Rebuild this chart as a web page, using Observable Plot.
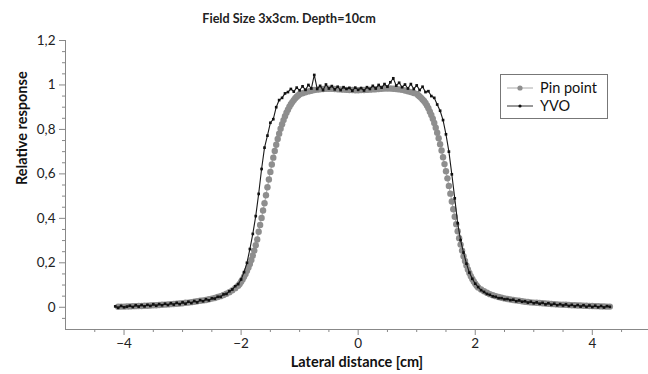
<!DOCTYPE html>
<html><head><meta charset="utf-8">
<script src="https://cdn.jsdelivr.net/npm/d3@7"></script>
<script src="https://cdn.jsdelivr.net/npm/@observablehq/plot@0.6"></script>
<style>
body{margin:0;background:#fff;}
#wrap{position:relative;width:648px;height:374px;font-family:Lato,sans-serif;}
#title{position:absolute;left:0;top:0;width:578px;text-align:center;font-weight:bold;font-size:12.6px;line-height:38px;color:#222;}
#legend{position:absolute;left:500px;top:74px;width:106px;height:43px;border:1px solid #777;background:#fff;font-size:14.5px;color:#111;}
#legend .row{position:absolute;left:0;height:18px;line-height:18px;}
#legend svg{position:absolute;left:6px;top:0;}
#legend span{position:absolute;left:39px;top:0;white-space:nowrap;}
</style></head>
<body><div id="wrap"><div id="title"></div><div id="legend"></div></div>
<script>
const titleText = "Field Size 3x3cm. Depth=10cm";
const xLabel = "Lateral distance [cm]";
const yLabel = "Relative response";
const seriesNames = ["Pin point", "YVO"];
const xTicks = [-4, -2, 0, 2, 4];
const xMinorTicks = [-4.5, -3.5, -3, -2.5, -1.5, -1, -0.5, 0.5, 1, 1.5, 2.5, 3, 3.5, 4.5];
const yTicks = [0, 0.2, 0.4, 0.6, 0.8, 1, 1.2];
const yMinorTicks = [-0.05, 0.05, 0.1, 0.15, 0.25, 0.3, 0.35, 0.45, 0.5, 0.55, 0.65, 0.7, 0.75, 0.85, 0.9, 0.95, 1.05, 1.1, 1.15];

// Pin point
const pinX = [
-4.10,-4.05,-4.00,-3.95,-3.90,-3.85,-3.80,-3.75,-3.70,-3.65,-3.60,-3.55,-3.50,-3.45,-3.40,-3.35,-3.30,-3.25,-3.20,-3.15,-3.10,-3.05,-3.00,-2.95,-2.90,-2.85,-2.80,-2.75,-2.70,-2.65,-2.60,-2.55,-2.50,-2.45,-2.40,-2.35,-2.30,-2.25,-2.20,-2.15,-2.10,-2.05,
-2.025,-2.000,-1.975,-1.950,-1.925,-1.900,-1.875,-1.850,-1.825,-1.800,-1.775,-1.750,-1.725,-1.700,-1.675,-1.650,-1.625,-1.600,-1.575,-1.550,-1.525,-1.500,-1.475,-1.450,-1.425,-1.400,-1.375,-1.350,-1.325,-1.300,-1.275,-1.250,-1.225,-1.200,-1.175,-1.150,-1.125,-1.100,-1.075,-1.050,-1.025,-1.000,
-0.95,-0.90,-0.85,-0.80,-0.75,-0.70,-0.65,-0.60,-0.55,-0.50,-0.45,-0.40,-0.35,-0.30,-0.25,-0.20,-0.15,-0.10,-0.05,0.00,0.05,0.10,0.15,0.20,0.25,0.30,0.35,0.40,0.45,0.50,0.55,0.60,0.65,0.70,0.75,0.80,0.85,0.90,0.95,
1.000,1.025,1.050,1.075,1.100,1.125,1.150,1.175,1.200,1.225,1.250,1.275,1.300,1.325,1.350,1.375,1.400,1.425,1.450,1.475,1.500,1.525,1.550,1.575,1.600,1.625,1.650,1.675,1.700,1.725,1.750,1.775,1.800,1.825,1.850,1.875,1.900,1.925,1.950,1.975,2.000,2.025,2.050,
2.10,2.15,2.20,2.25,2.30,2.35,2.40,2.45,2.50,2.55,2.60,2.65,2.70,2.75,2.80,2.85,2.90,2.95,3.00,3.05,3.10,3.15,3.20,3.25,3.30,3.35,3.40,3.45,3.50,3.55,3.60,3.65,3.70,3.75,3.80,3.85,3.90,3.95,4.00,4.05,4.10,4.15,4.20,4.25,4.30];
const pinY = [
0.002,0.003,0.003,0.004,0.004,0.005,0.005,0.006,0.006,0.007,0.007,0.008,0.009,0.009,0.010,0.011,0.012,0.013,0.014,0.015,0.016,0.017,0.018,0.020,0.021,0.023,0.025,0.027,0.029,0.031,0.033,0.036,0.039,0.042,0.046,0.050,0.055,0.061,0.068,0.076,0.086,0.097,
0.105,0.115,0.125,0.137,0.150,0.164,0.179,0.195,0.213,0.233,0.255,0.279,0.305,0.340,0.370,0.402,0.435,0.468,0.504,0.540,0.575,0.609,0.642,0.673,0.703,0.731,0.757,0.781,0.803,0.823,0.842,0.859,0.875,0.889,0.902,0.913,0.923,0.932,0.940,0.947,0.953,0.958,
0.963,0.967,0.971,0.974,0.977,0.979,0.981,0.982,0.983,0.983,0.983,0.982,0.981,0.980,0.979,0.978,0.977,0.977,0.976,0.976,0.977,0.977,0.978,0.979,0.980,0.981,0.982,0.983,0.984,0.984,0.984,0.983,0.982,0.980,0.978,0.975,0.972,0.968,0.964,
0.960,0.954,0.948,0.942,0.935,0.928,0.919,0.908,0.895,0.880,0.865,0.848,0.829,0.808,0.785,0.760,0.733,0.705,0.675,0.644,0.612,0.580,0.546,0.511,0.476,0.441,0.407,0.374,0.342,0.311,0.282,0.255,0.230,0.208,0.188,0.170,0.154,0.140,0.127,0.116,0.106,0.097,0.089,
0.080,0.072,0.065,0.059,0.054,0.050,0.046,0.043,0.040,0.037,0.035,0.033,0.031,0.029,0.027,0.025,0.024,0.022,0.021,0.020,0.019,0.018,0.017,0.016,0.015,0.014,0.013,0.012,0.011,0.011,0.010,0.009,0.009,0.008,0.008,0.007,0.007,0.006,0.006,0.005,0.005,0.004,0.004,0.003,0.003];

// YVO
const yvoX = [
-4.15,-4.10,-4.05,-4.00,-3.95,-3.90,-3.85,-3.80,-3.75,-3.70,-3.65,-3.60,-3.55,-3.50,-3.45,-3.40,-3.35,-3.30,-3.25,-3.20,-3.15,-3.10,-3.05,-3.00,-2.95,-2.90,-2.85,-2.80,-2.75,-2.70,-2.65,-2.60,-2.55,-2.50,-2.45,-2.40,-2.35,-2.30,-2.25,-2.20,-2.15,-2.10,-2.05,
-2.00,-1.95,-1.90,-1.85,-1.80,-1.75,-1.70,-1.65,-1.60,-1.55,-1.50,-1.45,-1.40,-1.35,-1.30,-1.25,-1.20,-1.15,-1.10,-1.05,-1.00,
-0.95,-0.90,-0.85,-0.80,-0.75,-0.70,-0.65,-0.60,-0.55,-0.50,-0.45,-0.40,-0.35,-0.30,-0.25,-0.20,-0.15,-0.10,-0.05,0.00,0.05,0.10,0.15,0.20,0.25,0.30,0.35,0.40,0.45,0.50,0.55,0.60,0.65,0.70,0.75,0.80,0.85,0.90,0.95,
1.00,1.05,1.10,1.15,1.20,1.25,1.30,1.35,1.40,1.45,1.50,1.55,1.60,1.65,1.70,1.75,1.80,1.85,1.90,1.95,2.00,
2.05,2.10,2.15,2.20,2.25,2.30,2.35,2.40,2.45,2.50,2.55,2.60,2.65,2.70,2.75,2.80,2.85,2.90,2.95,3.00,3.05,3.10,3.15,3.20,3.25,3.30,3.35,3.40,3.45,3.50,3.55,3.60,3.65,3.70,3.75,3.80,3.85,3.90,3.95,4.00,4.05,4.10,4.15,4.20,4.25,4.30];
const yvoY = [
0.004,-0.002,0.006,0.000,0.003,0.007,0.001,0.009,0.003,0.010,0.004,0.011,0.006,0.013,0.007,0.014,0.009,0.016,0.010,0.018,0.012,0.020,0.014,0.022,0.016,0.025,0.019,0.028,0.022,0.032,0.027,0.036,0.031,0.040,0.039,0.047,0.047,0.058,0.060,0.072,0.080,0.095,0.104,
0.125,0.158,0.200,0.262,0.330,0.410,0.510,0.622,0.718,0.772,0.830,0.846,0.900,0.932,0.942,0.962,0.968,0.982,0.970,0.988,0.976,
0.994,0.978,1.000,0.984,1.045,0.982,0.996,0.977,1.002,0.984,0.995,0.980,0.992,0.977,0.990,0.982,0.987,0.974,0.988,0.978,0.986,0.975,0.990,0.982,0.996,0.984,1.000,0.988,1.004,0.992,1.012,1.030,0.997,1.010,0.990,1.002,0.984,1.004,0.982,
0.998,0.977,0.992,0.968,0.972,0.950,0.942,0.912,0.884,0.842,0.778,0.700,0.598,0.490,0.378,0.302,0.246,0.196,0.156,0.128,0.106,
0.091,0.077,0.069,0.060,0.056,0.049,0.047,0.041,0.041,0.036,0.037,0.032,0.034,0.027,0.031,0.025,0.027,0.021,0.025,0.018,0.022,0.016,0.020,0.013,0.018,0.011,0.016,0.009,0.014,0.008,0.013,0.006,0.011,0.004,0.010,0.003,0.009,0.002,0.008,0.001,0.007,0.000,0.006,-0.001,0.005,0.002];

const pin = pinX.map((x, i) => ({x, y: pinY[i]}));
const yvo = yvoX.map((x, i) => ({x, y: yvoY[i]}));
const fmtX = d => d < 0 ? "\u2212" + Math.abs(d) : String(d);
const fmtY = d => String(d).replace(".", ",");
const xDomain = [-5, 4.96];
const yDomain = [-0.1, 1.2];

const chart = Plot.plot({
  width: 648, height: 374,
  marginTop: 40, marginLeft: 65, marginRight: 0, marginBottom: 45,
  style: {fontFamily: "Lato, sans-serif", fontSize: "13px", color: "#222", background: "white"},
  x: {domain: xDomain},
  y: {domain: yDomain},
  marks: [
    Plot.ruleX([xDomain[0]], {y1: yDomain[0], y2: yDomain[1], stroke: "#888"}),
    Plot.ruleY([yDomain[0]], {x1: xDomain[0], x2: xDomain[1], stroke: "#888"}),
    Plot.axisY({ticks: yTicks, tickFormat: fmtY, tickSize: 6, tickPadding: 4, stroke: "#888", fill: "#222", fontSize: 13.5, label: null}),
    Plot.axisY({ticks: yMinorTicks, tickFormat: () => "", tickSize: 3, stroke: "#888", label: null}),
    Plot.axisX({ticks: xTicks, tickFormat: fmtX, tickSize: 6, tickPadding: 3, stroke: "#888", fill: "#222", fontSize: 13.5, label: null}),
    Plot.axisX({ticks: xMinorTicks, tickFormat: () => "", tickSize: 3, stroke: "#888", label: null}),
    Plot.text([xLabel], {frameAnchor: "bottom", dy: 37, fontWeight: "bold", fontSize: 14.5, fill: "#111"}),
    Plot.text([yLabel], {frameAnchor: "left", dx: -43, rotate: -90, fontWeight: "bold", fontSize: 14.5, fill: "#111"}),
    Plot.line(pin, {x: "x", y: "y", stroke: "#aaa", strokeWidth: 1}),
    Plot.dot(pin, {x: "x", y: "y", r: 3.2, fill: "#8e8e8e", stroke: "none"}),
    Plot.line(yvo, {x: "x", y: "y", stroke: "#1a1a1a", strokeWidth: 1.1}),
    Plot.dot(yvo, {x: "x", y: "y", symbol: "square", r: 1.5, fill: "#111", stroke: "none"})
  ]
});
const wrap = document.getElementById("wrap");
wrap.insertBefore(chart, wrap.firstChild);
document.getElementById("title").textContent = titleText;

const legend = document.getElementById("legend");
const legendStyles = [{line: "#aaa", dot: "#8e8e8e", r: 2.6}, {line: "#333", dot: "#111", r: 1.6}];
seriesNames.forEach((name, i) => {
  const row = document.createElement("div");
  row.className = "row";
  row.style.top = (4 + i * 18) + "px";
  row.innerHTML = `<svg width="26" height="18"><line x1="0" x2="26" y1="9" y2="9" stroke="${legendStyles[i].line}" stroke-width="1"/><circle cx="13" cy="9" r="${legendStyles[i].r}" fill="${legendStyles[i].dot}"/></svg><span>${name}</span>`;
  legend.appendChild(row);
});
</script>
</body></html>
